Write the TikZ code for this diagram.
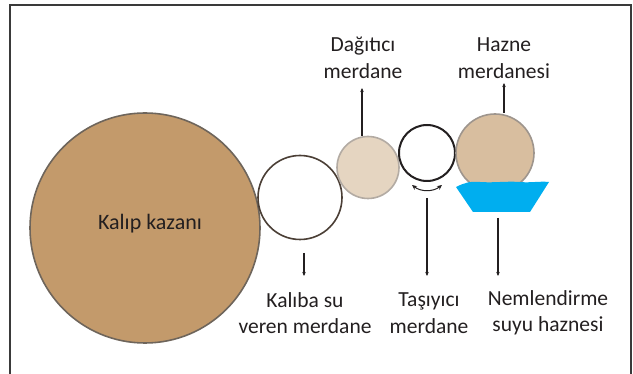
\documentclass[tikz,border=0pt]{standalone}
\usepackage{fontspec}
\setmainfont{Carlito}
\usetikzlibrary{arrows.meta}
\definecolor{kazan}{HTML}{C39A6B}
\definecolor{kazanline}{HTML}{6E655B}
\definecolor{kalibaline}{HTML}{4B3F36}
\definecolor{dagfill}{HTML}{E5D5C1}
\definecolor{dagline}{HTML}{B3ABA3}
\definecolor{haznefill}{HTML}{D8BE9F}
\definecolor{hazneline}{HTML}{9E958D}
\definecolor{water}{HTML}{00AEEF}
\definecolor{frame}{HTML}{3A3A3A}
\definecolor{txt}{HTML}{231F20}
\begin{document}
\begin{tikzpicture}[x=1pt,y=-1pt,
  roll/.style={circle,inner sep=0pt,line width=1.6pt},
  lbl/.style={align=center,text=txt,inner sep=0pt,font=\fontsize{21.5}{26.5}\selectfont},
  arr/.style={-{Stealth[length=4pt,width=3.5pt]},line width=1.3pt,draw=txt}]
\useasboundingbox (0,0) rectangle (633,374);
\clip (0,0) rectangle (633,374);
\draw[frame,line width=1.6pt] (10,5) rectangle (631,390);
% rollers
\node[roll,draw=kazanline,fill=kazan,minimum size=230pt] (kazan) at (145,228) {};
\node[lbl,font=\fontsize{22}{26.5}\selectfont] (kazantxt) at (150,224) {Kalıp kazanı};
\node[roll,draw=kalibaline,fill=white,minimum size=84pt] (kaliba) at (300,197.5) {};
\node[roll,draw=dagline,fill=dagfill,minimum size=62pt] (dag) at (368,167.5) {};
\node[roll,draw=txt,fill=white,line width=2pt,minimum size=56pt] (tas) at (427,153) {};
\node[roll,draw=hazneline,fill=haznefill,minimum size=78pt] (hazne) at (495,153) {};
% water tank
\fill[water] (456,187) .. controls (464,183) and (470,181) .. (480,182)
  .. controls (495,183) and (505,181) .. (520,182)
  .. controls (530,183) and (540,181) .. (549,182)
  -- (530,212) -- (473,212) -- cycle;
\coordinate (tank) at (500,212);
% rotation arrow
\draw[{Stealth[length=5pt,width=4.5pt]}-{Stealth[length=5pt,width=4.5pt]},line width=1pt,txt]
  (412,185) .. controls (421,192) and (433,192) .. (442,185);
% labels
\node[lbl] (dagtxt) at (363,58) {Dağıtıcı\\merdane};
\node[lbl] (haznetxt) at (504,58) {Hazne\\merdanesi};
\node[lbl] (kalibatxt) at (305,313) {Kalıba su\\veren merdane};
\node[lbl] (tastxt) at (429,313) {Taşıyıcı\\merdane};
\node[lbl] (nemtxt) at (548,313) {Nemlendirme\\suyu haznesi};
% arrow ends
\coordinate (dagtip) at (362,88);
\coordinate (haznetip) at (504,83);
\coordinate (kalibastart) at (304,253);
\coordinate (kalibatip) at (304,276);
\coordinate (tasstart) at (427,198);
\coordinate (tastip) at (427,276);
\coordinate (nemstart) at (498,218);
\coordinate (nemtip) at (498,276);
\draw[arr] (dag.north -| dagtip) -- (dagtip);
\draw[arr] (hazne.north -| haznetip) -- (haznetip);
\draw[arr] (kalibastart) -- (kalibatip);
\draw[arr] (tasstart) -- (tastip);
\draw[arr] (nemstart) -- (nemtip);
\end{tikzpicture}
\end{document}
